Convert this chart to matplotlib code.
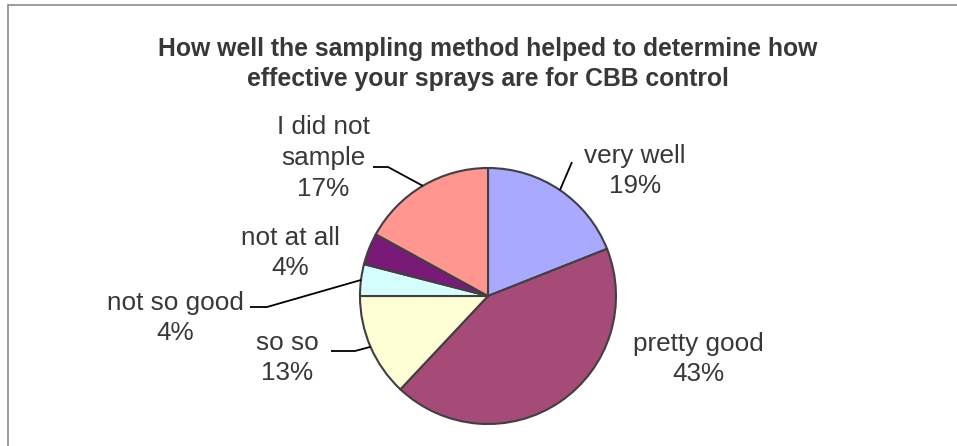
import matplotlib.pyplot as plt
import numpy as np
from matplotlib.patches import Rectangle

plt.rcParams['font.family'] = ['Liberation Sans', 'DejaVu Sans']

# data
labels = ['very well', 'pretty good', 'so so', 'not so good', 'not at all', 'I did not\nsample']
values = [19, 43, 13, 4, 4, 17]
colors = ['#A9A9FF', '#A64A78', '#FFFFD5', '#D5FFFF', '#7A1A78', '#FF9690']
title = 'How well the sampling method helped to determine how\neffective your sprays are for CBB control'

W, H = 957, 446
fig = plt.figure(figsize=(W / 100, H / 100), dpi=100)
ax = fig.add_axes([0, 0, 1, 1])

# work in pixel units, y measured downward from the top -> flip when placing
cx, cy, R = 488, H - 296, 128
wedges, _ = ax.pie(values, colors=colors, startangle=90, counterclock=False,
                   center=(cx, cy), radius=R,
                   wedgeprops=dict(edgecolor='#404040', linewidth=1.5))
ax.set_xlim(0, W)
ax.set_ylim(0, H)
ax.set_aspect('auto')
ax.axis('off')

# label centres (pixels from top) and optional leader elbow points
label_pos = [(635, 171), (698, 359), (287, 358), (175, 318), (290, 253), (323, 158)]
leaders = [[(572, 162)], None, [(355, 351), (331, 351)], [(267, 307), (250, 307)],
           None, [(388, 167), (373, 167)]]

total = sum(values)
for i, w in enumerate(wedges):
    ang = np.deg2rad((w.theta1 + w.theta2) / 2)
    ax_pt = (cx + R * np.cos(ang), cy + R * np.sin(ang))
    tx, ty = label_pos[i]
    pct = round(100 * values[i] / total)
    ax.text(tx, H - ty, f'{labels[i]}\n{pct}%', ha='center', va='center',
            fontsize=18.8, color='#383838', linespacing=1.36)
    if leaders[i]:
        xs = [ax_pt[0]] + [p[0] for p in leaders[i]]
        ys = [ax_pt[1]] + [H - p[1] for p in leaders[i]]
        ax.plot(xs, ys, color='black', lw=1.3, solid_capstyle='butt')

ax.text(488, H - 64, title, ha='center', va='center', fontsize=17.8,
        fontweight='bold', color='#383838', linespacing=1.35)

# chart-area frame, partially cropped by the image edge
fig.patches.append(Rectangle((8 / W, -0.1), 1.2, (H - 5) / H + 0.1, transform=fig.transFigure,
                             fill=False, edgecolor='#8c8c8c', lw=1.2))

fig.savefig('out.png', dpi=100)
